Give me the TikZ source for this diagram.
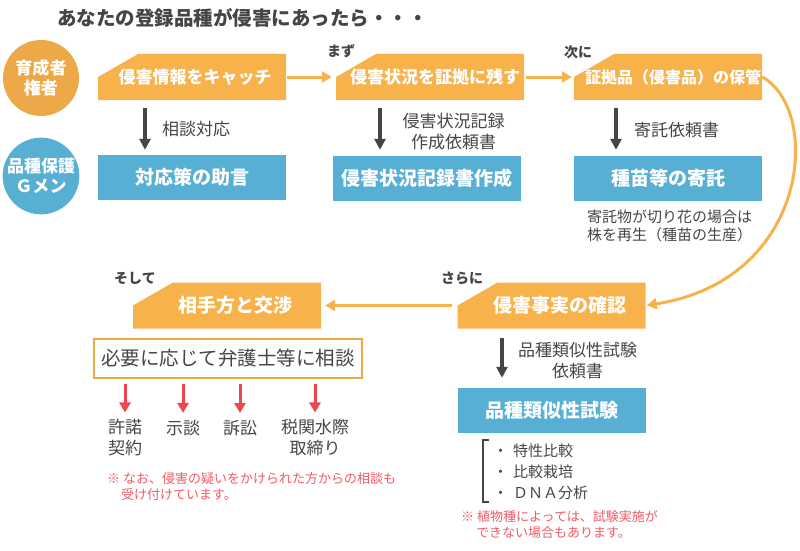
\documentclass[tikz,border=0pt]{standalone}
\usepackage{fontspec}
\setmainfont{Noto Sans CJK JP}
\usetikzlibrary{calc,arrows.meta}
\definecolor{ob}{HTML}{F8B24B}
\definecolor{oc}{HTML}{EDA947}
\definecolor{bb}{HTML}{57AFD4}
\definecolor{dg}{HTML}{454545}
\definecolor{rd}{HTML}{EE4650}
\definecolor{rn}{HTML}{F25A64}
\begin{document}
\begin{tikzpicture}[x=1pt,y=-1pt,
  chbox/.style={minimum width=188pt, minimum height=46pt, inner sep=0pt, text=white,
    font=\bfseries\fontsize{17}{20}\selectfont,
    path picture={\fill[ob] (path picture bounding box.south west) -- (path picture bounding box.west)
      -- ($(path picture bounding box.north west)+(40pt,0pt)$) -- (path picture bounding box.north east)
      -- (path picture bounding box.south east) -- cycle;}},
  bigch/.style={chbox, font=\bfseries\fontsize{19}{22}\selectfont},
  bbox/.style={fill=bb, minimum width=188pt, minimum height=45pt, inner sep=0pt, text=white,
    font=\bfseries\fontsize{19}{22}\selectfont},
  circ/.style={circle, minimum size=76pt, inner sep=0pt, text=white, align=center,
    font=\bfseries\fontsize{17}{20}\selectfont},
  lbl/.style={text=dg, inner sep=0pt, font=\fontsize{17}{21}\selectfont},
  stepl/.style={text=dg, inner sep=0pt, anchor=west, font=\bfseries\fontsize{14}{16}\selectfont},
  note/.style={text=rn, inner sep=0pt, anchor=north west, align=left, font=\fontsize{13}{16}\selectfont},
  oarrow/.style={draw=ob, line width=3pt, -{Triangle[length=10pt,width=11pt]}},
  garrow/.style={draw=dg, line width=3.3pt, -{Triangle[length=11pt,width=11pt]}},
  rarrow/.style={draw=rd, line width=3pt, -{Triangle[length=10pt,width=11pt]}}
]
\useasboundingbox (0,0) rectangle (800,551);

% title
\node[text=dg, anchor=west, inner sep=0pt, font=\bfseries\fontsize{19.5}{22}\selectfont] (title) at (57,18) {あなたの登録品種が侵害にあったら・・・};

% circles
\node[circ, fill=oc] (c1) at (41,78) {育成者\\権者};
\node[circ, fill=bb] (c2) at (41,176) {品種保護\\Ｇメン};

% row 1
\node[chbox] (b1) at (192,77) {\hspace*{6pt}侵害情報をキャッチ};
\node[chbox] (b2) at (430,77) {\hspace*{10pt}侵害状況を証拠に残す};
\node[chbox, font=\bfseries\fontsize{16}{20}\selectfont] (b3) at (668,77) {\hspace*{10pt}証拠品（侵害品）の保管};
\node[stepl] (s1) at (327,51) {まず};
\node[stepl] (s2) at (564,52) {次に};

\draw[oarrow, shorten <=1pt, shorten >=4pt] (b1) -- (b2);
\draw[oarrow, shorten <=2pt, shorten >=2pt] (b2) -- (b3);

% blue row
\node[bbox] (d1) at (192,177.5) {対応策の助言};
\node[bbox] (d2) at (427,178.5) {侵害状況記録書作成};
\node[bbox] (d3) at (668,178.5) {種苗等の寄託};

\draw[garrow, shorten <=8pt, shorten >=5pt] (b1.south -| 145,0) -- (d1.north -| 145,0);
\draw[garrow, shorten <=8pt, shorten >=6pt] (b2.south -| 380,0) -- (d2.north -| 380,0);
\draw[garrow, shorten <=8pt, shorten >=6pt] (b3.south -| 616,0) -- (d3.north -| 616,0);

\node[lbl, anchor=west] (t1) at (162,129) {相談対応};
\node[lbl, align=center] (t2) at (453.5,131.5) {侵害状況記録\\作成依頼書};
\node[lbl, anchor=west] (t3) at (634,130) {寄託依頼書};
\node[lbl, anchor=north west, align=left, font=\fontsize{15}{18}\selectfont] (t4) at (587,210) {寄託物が切り花の場合は\\株を再生（種苗の生産）};

% row 2
\node[bigch] (b4) at (551.5,305.5) {\hspace*{16pt}侵害事実の確認};
\node[bigch] (b5) at (227,305.5) {\hspace*{16pt}相手方と交渉};
\node[stepl] (s3) at (441,278) {さらに};
\node[stepl] (s4) at (114,278) {そして};

\draw[oarrow, shorten >=1pt] (b3.east) .. controls (822,110) and (810,280) .. (b4.east);
\draw[oarrow, shorten <=5pt, shorten >=4pt] (b4.west) -- (b5.east);

% right bottom
\node[bbox] (d4) at (551.5,410.5) {品種類似性試験};
\draw[garrow, shorten <=9pt, shorten >=10pt] (b4.south -| 502,0) -- (d4.north -| 502,0);
\node[lbl, align=center] (t5) at (577.5,361) {品種類似性試験\\依頼書};
\draw[dg, line width=2.2pt] (489,440) -- (483,440) -- (483,502) -- (489,502);
\node[text=dg, anchor=west, inner sep=0pt, align=left, font=\fontsize{15}{21}\selectfont] (t6) at (493,472) {・\hspace*{5pt}特性比較\\・\hspace*{5pt}比較栽培\\・\hspace*{5pt}ＤＮＡ分析};
\node[note] (n2) at (461,510) {※ 植物種によっては、試験実施が\\\hspace*{15pt}できない場合もあります。};

% left bottom
\node[draw=oc, line width=2pt, fill=white, minimum width=268pt, minimum height=39pt, inner sep=0pt, text=dg, font=\fontsize{19.5}{22}\selectfont] (w) at (228,358.5) {必要に応じて弁護士等に相談};

\node[lbl, align=center] (l1) at (125,438) {許諾\\契約};
\node[lbl] (l2) at (183,428) {示談};
\node[lbl] (l3) at (240,428) {訴訟};
\node[lbl, align=center] (l4) at (315,438) {税関水際\\取締り};
\foreach \l in {l1,l2,l3,l4}{
  \draw[rarrow, shorten <=5pt, shorten >=7pt] (\l |- w.south) -- (\l.north);
}
\node[note] (n1) at (107,472) {※ なお、侵害の疑いをかけられた方からの相談も\\\hspace*{14pt}受け付けています。};
\end{tikzpicture}
\end{document}
